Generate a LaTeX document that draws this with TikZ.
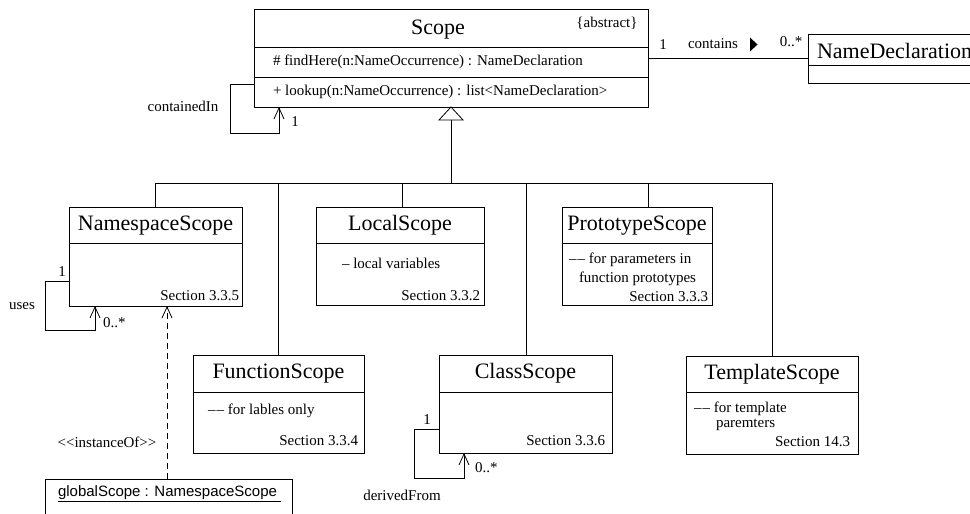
\documentclass[tikz,border=0pt]{standalone}
\usepackage{fontspec}
\setmainfont{Liberation Serif}
\newfontfamily\arialfont{Liberation Sans}
\usetikzlibrary{arrows.meta}
\newcommand{\ddash}{–\kern1.2pt–}
\begin{document}
\begin{tikzpicture}[x=1pt,y=-1pt,
  every node/.style={inner sep=0pt, outer sep=0pt},
  cls/.style={draw, line width=0.8pt, anchor=north west},
  ttl/.style={font=\fontsize{22}{24}\selectfont},
  txt/.style={font=\fontsize{15}{17}\selectfont},
  ln/.style={line width=0.8pt},
  barb/.style={-{Straight Barb[length=11pt,width=10pt]}},
]
\useasboundingbox (0,0) rectangle (970,514);
\clip (0,0) rectangle (970,514);

% ---------- Scope ----------
\node[cls, minimum width=394, minimum height=98] (scope) at (254,9) {};
\draw[ln] (254,47) -- (648,47);
\draw[ln] (254,77) -- (648,77);
\node[ttl] (scopeT) at (438,29.5) {Scope};
\node[txt] (scopeA) at (607,23.5) {\{abstract\}};
\node[txt, anchor=west] (scopeM1) at (273,62) {\# findHere(n:NameOccurrence) : NameDeclaration};
\node[txt, anchor=west] (scopeM2) at (273,92) {+ lookup(n:NameOccurrence) : list\textless NameDeclaration\textgreater};

% ---------- NameDeclaration ----------
\node[cls, minimum width=200, minimum height=49] (nd) at (808,34) {};
\draw[ln] (808,65) -- (1008,65);
\node[ttl, anchor=west] (ndT) at (817,51) {NameDeclaration};

% association
\draw[ln] (scope.east |- nd.west) -- (nd.west);
\node[txt] (as1) at (663,44.5) {1};
\node[txt] (asC) at (713,44) {contains};
\fill (750,37.5) -- (757.5,44.5) -- (750,51.5) -- cycle;
\node[txt] (asM) at (791,42) {0..*};

% containedIn self loop
\coordinate (ciA) at (254,84);
\coordinate (ciB) at (230,133);
\coordinate (ciC) at (279,107);
\draw[ln, barb] (ciA) -| (ciB) -| (ciC);
\node[txt] (ciL) at (183,106) {containedIn};
\node[txt] (ci1) at (295,122) {1};

% ---------- generalization ----------
\coordinate (gen) at (451,120);
\draw[ln] (scope.south) -- (439,120) -- (463,120) -- cycle;
\coordinate (busC) at (451,183);
\draw[ln] (gen) -- (busC);
\coordinate (busL) at (155.5,183);
\coordinate (busR) at (772,183);

% ---------- upper row ----------
\node[cls, minimum width=173, minimum height=99] (ns) at (69,207) {};
\draw[ln] (69,243) -- (242,243);
\node[ttl] (nsT) at (155.5,225.5) {NamespaceScope};
\node[txt, anchor=east] (nsS) at (239,296) {Section 3.3.5};

\node[cls, minimum width=168, minimum height=98] (ls) at (316,207) {};
\draw[ln] (316,243) -- (484,243);
\node[ttl] (lsT) at (400,225.5) {LocalScope};
\node[txt, anchor=west] (lsD) at (342,263) {– local variables};
\node[txt, anchor=east] (lsS) at (480,296) {Section 3.3.2};

\node[cls, minimum width=150, minimum height=98] (ps) at (562,207) {};
\draw[ln] (562,243) -- (712,243);
\node[ttl] (psT) at (637,225.5) {PrototypeScope};
\node[txt, anchor=west] (psD1) at (569,260) {\ddash{} for parameters in};
\node[txt, anchor=west] (psD2) at (579,279) {function prototypes};
\node[txt, anchor=east] (psS) at (708,297) {Section 3.3.3};

% ---------- lower row ----------
\node[cls, minimum width=171, minimum height=98] (fs) at (193,355) {};
\draw[ln] (193,392) -- (364,392);
\node[ttl] (fsT) at (278.5,373.5) {FunctionScope};
\node[txt, anchor=west] (fsD) at (208,411) {\ddash{} for lables only};
\node[txt, anchor=east] (fsS) at (358,441) {Section 3.3.4};

\node[cls, minimum width=173, minimum height=98] (cs) at (439,355) {};
\draw[ln] (439,392) -- (612,392);
\node[ttl] (csT) at (525.5,373.5) {ClassScope};
\node[txt, anchor=east] (csS) at (605,441) {Section 3.3.6};

\node[cls, minimum width=172, minimum height=98] (ts) at (686,356) {};
\draw[ln] (686,392) -- (858,392);
\node[ttl] (tsT) at (772,374) {TemplateScope};
\node[txt, anchor=west] (tsD1) at (694,409) {\ddash{} for template};
\node[txt, anchor=west] (tsD2) at (716,424.5) {paremters};
\node[txt, anchor=east] (tsS) at (850,442) {Section 14.3};

% bus and branches
\draw[ln] (ns.north) -- (busL) -- (busR) -- (ts.north);
\coordinate (bFs) at (278,183);
\coordinate (bLs) at (402,183);
\coordinate (bCs) at (526,183);
\coordinate (bPs) at (648,183);
\coordinate (tPs) at (648,207);
\coordinate (tLs) at (402,207);
\draw[ln] (bFs) -- (bFs |- fs.north);
\draw[ln] (bLs) -- (tLs);
\draw[ln] (bCs) -- (bCs |- cs.north);
\draw[ln] (bPs) -- (tPs);

% uses self loop
\coordinate (usA) at (69,281);
\coordinate (usB) at (45,330);
\coordinate (usC) at (95,306);
\draw[ln, barb] (usA) -| (usB) -| (usC);
\node[txt] (usL) at (22,306) {uses};
\node[txt] (us1) at (62,272) {1};
\node[txt, anchor=west] (usM) at (103,323) {0..*};

% derivedFrom self loop
\coordinate (dfA) at (439,429);
\coordinate (dfB) at (414,478);
\coordinate (dfC) at (464,453);
\draw[ln, barb] (dfA) -| (dfB) -| (dfC);
\node[txt] (df1) at (427,420) {1};
\node[txt, anchor=west] (dfM) at (475,468) {0..*};
\node[txt] (dfL) at (402,495) {derivedFrom};

% ---------- globalScope ----------
\node[cls, minimum width=247, minimum height=60] (gs) at (45,479) {};
\node[font=\arialfont\fontsize{15}{17}\selectfont, anchor=west] (gsT) at (58,494) {\underline{globalScope : NamespaceScope\ }};
\coordinate (gsTop) at (167,479);
\coordinate (nsBot) at (167,306);
\draw[ln, barb, dash pattern=on 6pt off 4pt] (gsTop) -- (nsBot);
\node[txt] (ioL) at (107,442) {\textless\kern0pt\textless\kern0pt instanceOf\textgreater\kern0pt\textgreater};
\end{tikzpicture}
\end{document}
